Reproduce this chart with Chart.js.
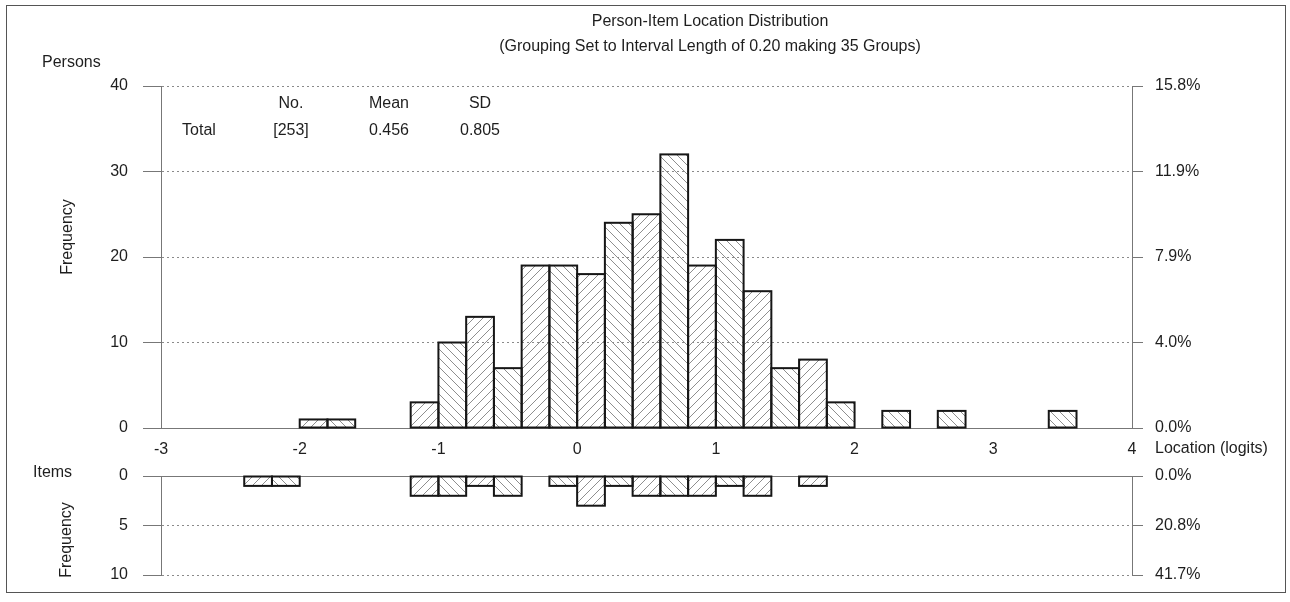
<!DOCTYPE html>
<html>
<head>
<meta charset="utf-8">
<script src="https://cdn.jsdelivr.net/npm/chart.js@4.4.1/dist/chart.umd.min.js"></script>
<style>
  html, body { margin: 0; padding: 0; background: #fff; }
  #wrap { position: relative; width: 1290px; height: 602px; }
  canvas { position: absolute; left: 0; top: 0; }
</style>
</head>
<body>
<div id="wrap">
  <canvas id="persons" width="1290" height="602"></canvas>
  <canvas id="items" width="1290" height="602"></canvas>
</div>
<script>
// lower edge of each of the 35 groups (interval length 0.20)
const binStarts = [-3.0, -2.8, -2.6, -2.4, -2.2, -2.0, -1.8, -1.6, -1.4, -1.2,
  -1.0, -0.8, -0.6, -0.4, -0.2, 0.0, 0.2, 0.4, 0.6, 0.8,
  1.0, 1.2, 1.4, 1.6, 1.8, 2.0, 2.2, 2.4, 2.6, 2.8,
  3.0, 3.2, 3.4, 3.6, 3.8];
const binWidth = 0.2;

const personCounts = [0, 0, 0, 0, 0, 1, 1, 0, 0, 3,
  10, 13, 7, 19, 19, 18, 24, 25, 32, 19,
  22, 16, 7, 8, 3, 0, 2, 0, 2, 0,
  0, 0, 2, 0, 0];
const itemCounts = [0, 0, 0, 1, 1, 0, 0, 0, 0, 2,
  2, 1, 2, 0, 1, 3, 1, 2, 2, 2,
  1, 2, 0, 1, 0, 0, 0, 0, 0, 0,
  0, 0, 0, 0, 0];

const personTicks = [0, 10, 20, 30, 40];
const personPctLabels = ["0.0%", "4.0%", "7.9%", "11.9%", "15.8%"];
const itemTicks = [0, 5, 10];
const itemPctLabels = ["0.0%", "20.8%", "41.7%"];

const titleLines = ["Person-Item Location Distribution",
  "(Grouping Set to Interval Length of 0.20 making 35 Groups)"];
const statHeads = ["No.", "Mean", "SD"];
const statTotals = ["[253]", "0.456", "0.805"];

const FONT = "'Liberation Sans', Arial, sans-serif";
const ink = "#1e1e1e";
const axisGrey = "#777";

Chart.defaults.font.family = FONT;
Chart.defaults.font.size = 16;
Chart.defaults.color = ink;

function hatch(dir) {
  const n = 9;
  const c = document.createElement("canvas");
  c.width = n; c.height = n;
  const g = c.getContext("2d");
  g.strokeStyle = "#8e8e8e";
  g.lineWidth = 1;
  g.beginPath();
  if (dir === "/") {
    g.moveTo(0, n); g.lineTo(n, 0);
    g.moveTo(-1, 1); g.lineTo(1, -1);
    g.moveTo(n - 1, n + 1); g.lineTo(n + 1, n - 1);
  } else {
    g.moveTo(0, 0); g.lineTo(n, n);
    g.moveTo(-1, n - 1); g.lineTo(1, n + 1);
    g.moveTo(n - 1, -1); g.lineTo(n + 1, 1);
  }
  g.stroke();
  return g.createPattern(c, "repeat");
}
const slash = hatch("/");
const backslash = hatch("\\");
const fills = binStarts.map((b, i) => (i % 2 === 1 ? slash : backslash));

function points(counts) {
  return binStarts.map((b, i) => ({ x: b + binWidth / 2, y: counts[i] || null }));
}

// black outline round each bar, taken from the bar elements
const outline = {
  id: "outline",
  afterDatasetsDraw(chart) {
    const ctx = chart.ctx;
    ctx.save();
    ctx.strokeStyle = "#161616";
    ctx.lineWidth = 2;
    chart.getDatasetMeta(0).data.forEach((el, i) => {
      if (chart.data.datasets[0].data[i].y === null) return;
      const p = el.getProps(["x", "y", "base", "width"], true);
      ctx.strokeRect(p.x - p.width / 2, Math.min(p.y, p.base), p.width, Math.abs(p.base - p.y));
    });
    ctx.restore();
  }
};

function text(ctx, s, x, y, align) {
  ctx.textAlign = align || "center";
  ctx.fillText(s, x, y);
}
function vtext(ctx, s, x, y) {
  ctx.save();
  ctx.translate(x, y);
  ctx.rotate(-Math.PI / 2);
  ctx.textAlign = "center";
  ctx.fillText(s, 0, 0);
  ctx.restore();
}

const personText = {
  id: "personText",
  afterDraw(chart) {
    const ctx = chart.ctx;
    ctx.save();
    ctx.fillStyle = ink;
    ctx.font = "16px " + FONT;
    ctx.textBaseline = "middle";
    text(ctx, titleLines[0], 710, 22);
    text(ctx, titleLines[1], 710, 47);
    [291, 389, 480].forEach((cx, i) => {
      text(ctx, statHeads[i], cx, 104);
      text(ctx, statTotals[i], cx, 131);
    });
    text(ctx, "Total", 199, 131);
    text(ctx, "Persons", 42, 63, "left");
    text(ctx, "Location (logits)", 1155, 449, "left");
    vtext(ctx, "Frequency", 68, 237);
    ctx.strokeStyle = "#555";
    ctx.lineWidth = 1;
    ctx.strokeRect(6.5, 5.5, 1279, 587);
    ctx.restore();
  }
};

const itemText = {
  id: "itemText",
  afterDraw(chart) {
    const ctx = chart.ctx;
    ctx.save();
    ctx.fillStyle = ink;
    ctx.font = "16px " + FONT;
    ctx.textBaseline = "middle";
    text(ctx, "Items", 33, 473, "left");
    vtext(ctx, "Frequency", 67, 540);
    ctx.restore();
  }
};

function leftAxis(min, max, step, reverse, width) {
  return {
    type: "linear", position: "left", min: min, max: max, reverse: reverse,
    ticks: { stepSize: step, padding: 15 },
    grid: { color: "#8a8a8a", lineWidth: 1, tickLength: 18, tickColor: axisGrey, tickBorderDash: [] },
    border: { display: true, color: axisGrey, width: 1, dash: [2, 3] },
    afterFit: (s) => { s.width = width; }
  };
}
function rightAxis(min, max, step, reverse, ticks, labels, width) {
  return {
    type: "linear", position: "right", min: min, max: max, reverse: reverse,
    ticks: { stepSize: step, padding: 12, callback: (v) => labels[ticks.indexOf(v)] },
    grid: { drawOnChartArea: false, tickLength: 11, tickColor: axisGrey },
    border: { display: true, color: axisGrey, width: 1 },
    afterFit: (s) => { s.width = width; }
  };
}

new Chart(document.getElementById("persons"), {
  type: "bar",
  data: {
    datasets: [{
      data: points(personCounts),
      backgroundColor: fills,
      borderWidth: 0,
      barPercentage: 1,
      categoryPercentage: 1
    }]
  },
  options: {
    responsive: false,
    animation: false,
    layout: { padding: { top: 86, left: 0, right: 0, bottom: 0 } },
    plugins: { legend: { display: false }, tooltip: { enabled: false } },
    scales: {
      x: {
        type: "linear", min: -3, max: 4, offset: false,
        ticks: { stepSize: 1, padding: 12 },
        grid: { display: false, drawTicks: false, offset: false },
        border: { display: true, color: axisGrey },
        afterFit: (s) => { s.height = 602 - 428; }
      },
      y: leftAxis(0, 40, 10, false, 161),
      yPct: rightAxis(0, 40, 10, false, personTicks, personPctLabels, 1290 - 1132)
    }
  },
  plugins: [outline, personText]
});

new Chart(document.getElementById("items"), {
  type: "bar",
  data: {
    datasets: [{
      data: points(itemCounts),
      backgroundColor: fills,
      borderWidth: 0,
      barPercentage: 1,
      categoryPercentage: 1
    }]
  },
  options: {
    responsive: false,
    animation: false,
    layout: { padding: { top: 476, left: 0, right: 0, bottom: 602 - 575 } },
    plugins: { legend: { display: false }, tooltip: { enabled: false } },
    scales: {
      x: {
        type: "linear", position: "top", min: -3, max: 4, offset: false,
        ticks: { display: false },
        grid: { display: false, drawTicks: false, offset: false },
        border: { display: true, color: axisGrey },
        afterFit: (s) => { s.height = 0; }
      },
      y: leftAxis(0, 10, 5, true, 161),
      yPct: rightAxis(0, 10, 5, true, itemTicks, itemPctLabels, 1290 - 1132)
    }
  },
  plugins: [outline, itemText]
});
</script>
</body>
</html>
